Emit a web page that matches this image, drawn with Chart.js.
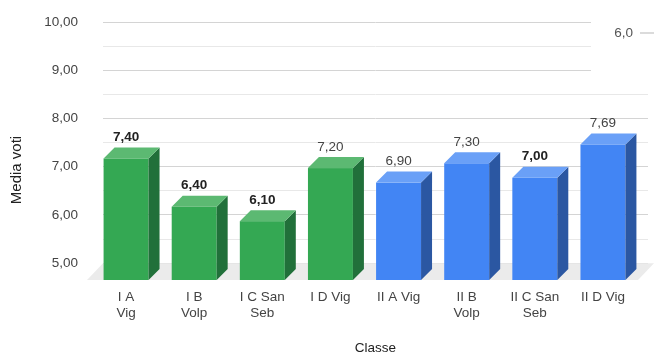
<!DOCTYPE html>
<html>
<head>
<meta charset="utf-8">
<script src="https://cdn.jsdelivr.net/npm/chart.js@4.4.1/dist/chart.umd.min.js"></script>
<style>
  html, body { margin: 0; padding: 0; background: #fff; }
  #box { width: 654px; height: 354px; position: relative; }
</style>
</head>
<body>
<div id="box"><canvas id="grafico"></canvas></div>
<script>
// dati
const classi = [['I A', 'Vig'], ['I B', 'Volp'], ['I C San', 'Seb'], 'I D Vig', 'II A Vig', ['II B', 'Volp'], ['II C San', 'Seb'], 'II D Vig'];
const medie = [7.40, 6.40, 6.10, 7.20, 6.90, 7.30, 7.00, 7.69];
const etichetteGrassetto = [true, true, true, false, false, false, true, false];
const coloriBarre = ['#34a853', '#34a853', '#34a853', '#34a853', '#4285f4', '#4285f4', '#4285f4', '#4285f4'];
const tickMaggiori = [5, 6, 7, 8, 9, 10];
const legendaLinea = '6,0';

// tonalità facce 3D
const facce = {
    '#34a853': { top: '#5cb972', side: '#21703a' },
    '#4285f4': { top: '#6aa0f7', side: '#2b57a2' }
};
const PROF_X = 11, PROF_Y = 11;
const FONT = "'Liberation Sans', Arial, sans-serif";

const virgola = (v, d) => v.toFixed(d).replace('.', ',');

const barre3d = {
    id: 'barre3d',
    beforeDatasetsDraw(chart) {
        const ctx = chart.ctx;
        const area = chart.chartArea;
        const y = chart.scales.y;
        const meta = chart.getDatasetMeta(0);
        const base = area.bottom;

        // riquadro legenda (copre la griglia)
        ctx.save();
        ctx.fillStyle = '#fff';
        ctx.fillRect(591, 0, chart.width - 591, 76);
        ctx.font = '13.5px ' + FONT;
        ctx.fillStyle = '#555';
        ctx.textAlign = 'right';
        ctx.textBaseline = 'middle';
        ctx.fillText(chart.data.datasets[1].label, 633, 33);
        ctx.strokeStyle = '#cfcfcf';
        ctx.lineWidth = 1.5;
        ctx.beginPath();
        ctx.moveTo(640, 33);
        ctx.lineTo(chart.width, 33);
        ctx.stroke();

        // pavimento
        const yBack = y.getPixelForValue(tickMaggiori[0]);
        ctx.fillStyle = '#ebebeb';
        ctx.beginPath();
        ctx.moveTo(area.left, yBack);
        ctx.lineTo(area.right + 6, yBack);
        ctx.lineTo(area.right - 10, base + PROF_Y);
        ctx.lineTo(area.left - 16, base + PROF_Y);
        ctx.closePath();
        ctx.fill();

        // barre
        meta.data.forEach((el, i) => {
            const w = el.width;
            const l = el.x - w / 2, r = el.x + w / 2;
            const top = el.y;
            const col = coloriBarre[i];
            const f = facce[col];
            // fronte
            ctx.fillStyle = col;
            ctx.fillRect(l - PROF_X, top + PROF_Y, w, base - top);
            // lato
            ctx.fillStyle = f.side;
            ctx.beginPath();
            ctx.moveTo(r - PROF_X, top + PROF_Y);
            ctx.lineTo(r, top);
            ctx.lineTo(r, base);
            ctx.lineTo(r - PROF_X, base + PROF_Y);
            ctx.closePath();
            ctx.fill();
            // sopra
            ctx.fillStyle = f.top;
            ctx.beginPath();
            ctx.moveTo(l - PROF_X, top + PROF_Y);
            ctx.lineTo(l, top);
            ctx.lineTo(r, top);
            ctx.lineTo(r - PROF_X, top + PROF_Y);
            ctx.closePath();
            ctx.fill();
            // etichetta valore
            ctx.font = (etichetteGrassetto[i] ? 'bold ' : '') + '13.5px ' + FONT;
            ctx.fillStyle = etichetteGrassetto[i] ? '#222' : '#444';
            ctx.textAlign = 'center';
            ctx.textBaseline = 'middle';
            ctx.fillText(virgola(medie[i], 2), el.x - PROF_X, top - 10);
        });

        // titolo asse y
        ctx.translate(17, 170);
        ctx.rotate(-Math.PI / 2);
        ctx.font = '15px ' + FONT;
        ctx.fillStyle = '#222';
        ctx.textAlign = 'center';
        ctx.textBaseline = 'middle';
        ctx.fillText('Media voti', 0, 0);
        ctx.restore();
        return false;
    }
};

new Chart(document.getElementById('grafico'), {
    type: 'bar',
    data: {
        labels: classi,
        datasets: [{
            data: medie,
            backgroundColor: coloriBarre,
            barPercentage: 0.66,
            categoryPercentage: 1
        }, {
            type: 'line',
            label: legendaLinea,
            data: [],
            borderColor: '#cfcfcf'
        }]
    },
    options: {
        responsive: true,
        maintainAspectRatio: false,
        animation: false,
        layout: { padding: { top: 22, right: 6, left: 6, bottom: 0 } },
        plugins: {
            legend: { display: false },
            tooltip: { enabled: false }
        },
        scales: {
            x: {
                grid: { display: false },
                border: { display: false },
                ticks: {
                    color: '#444',
                    font: { family: FONT, size: 13.5 },
                    padding: 12,
                    labelOffset: -PROF_X,
                    maxRotation: 0,
                    autoSkip: false
                },
                title: {
                    display: true,
                    text: 'Classe',
                    color: '#222',
                    font: { family: FONT, size: 13.5 },
                    padding: { top: 0, bottom: -2 }
                },
                afterFit(s) { s.height = 85; }
            },
            y: {
                min: 4.88,
                max: 10,
                border: { display: false },
                grid: {
                    drawTicks: false,
                    color: c => Number.isInteger(c.tick.value) ? '#d4d4d4' : '#e8e8e8'
                },
                ticks: {
                    color: '#444',
                    font: { family: FONT, size: 13.5 },
                    padding: 25,
                    callback: v => Number.isInteger(v) ? virgola(v, 2) : ''
                },
                afterBuildTicks(s) {
                    const t = [];
                    for (let v = tickMaggiori[0]; v <= tickMaggiori[tickMaggiori.length - 1]; v += 0.25) t.push({ value: v });
                    s.ticks = t;
                },
                afterFit(s) {
                    s.width = 97;
                    s.paddingTop = 0;
                    s.paddingBottom = 0;
                }
            }
        }
    },
    plugins: [barre3d]
});
</script>
</body>
</html>
